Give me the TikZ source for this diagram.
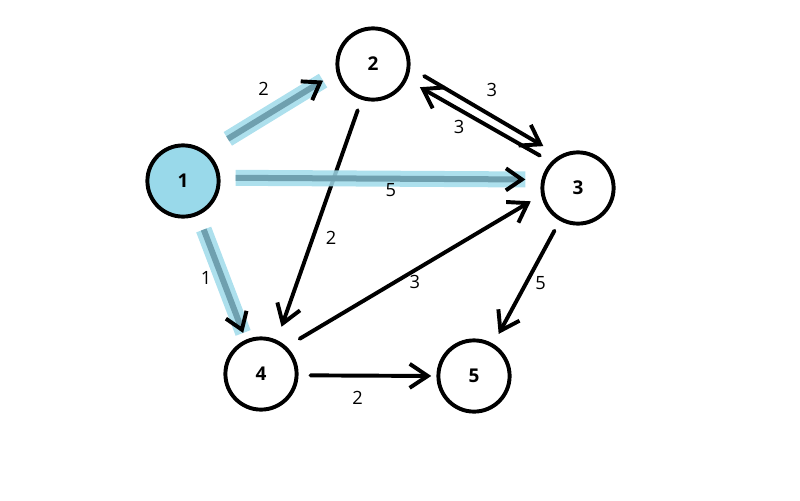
\documentclass[tikz,border=0pt]{standalone}
\usepackage{fontspec}
\setmainfont{Open Sans}
\usepackage{xcolor}
\usetikzlibrary{arrows.meta}
\definecolor{hlfill}{HTML}{99D9EA}
\definecolor{hlband}{HTML}{9FDAEA}
\definecolor{hlline}{HTML}{6FA0AF}

\begin{document}
\begin{tikzpicture}[x=0.025cm,y=-0.025cm,
  >={Straight Barb[length=0.45cm,width=0.6cm]},
  vertex/.style={draw,circle,line width=2.8pt,minimum size=1.78cm,font=\fontsize{13.5}{15}\selectfont\bfseries},
  edge/.style={->,line width=2.8pt,line cap=round},
  hl/.style={preaction={draw=hlband,opacity=0.85,line width=0.4cm,-},
    draw=hlline,line width=0.15cm,
    -{Straight Barb[length=0.4cm,width=0.55cm,color=black,line width=2.8pt]}},
  lbl/.style={font=\fontsize{13}{15}\selectfont}]
  \path[use as bounding box] (0,0) rectangle (800,500);

  \node[vertex,fill=hlfill] (n1) at (183,181) {1};
  \node[vertex] (n2) at (373,64) {2};
  \node[vertex] (n3) at (578,188) {3};
  \node[vertex] (n4) at (261,374) {4};
  \node[vertex] (n5) at (474,376) {5};

  % plain edges
  \draw[edge,shorten <=0.4cm,shorten >=0.46cm] (n2.-6) -- node[lbl,pos=.5,shift={(7,-22)}] {3} (n3.120);
  \draw[edge,shorten <=0.32cm,shorten >=0.37cm] (n3.136) -- node[lbl,pos=.5,shift={(-20,6)}] {3} (n2.-25);
  \draw[edge,shorten <=0.28cm,shorten >=0.35cm] (n2.-108) -- node[lbl,pos=.5,shift={(12,18)}] {2} (n4.65);
  \draw[edge,shorten <=0.38cm,shorten >=0.3cm] (n4.47) -- node[lbl,pos=.5,shift={(1,11)}] {3} (n3.191);
  \draw[edge,shorten <=0.28cm,shorten >=0.28cm] (n3.-119) -- node[lbl,pos=.5,shift={(14,1)}] {5} (n5.59);
  \draw[edge,shorten <=0.3cm,shorten >=0.13cm] (n4.-2) -- node[lbl,pos=.5,shift={(-10,22)}] {2} (n5.180);

  % highlighted edges
  \draw[hl,shorten <=0.62cm,shorten >=0.39cm] (n1.51) -- node[lbl,pos=.5,shift={(-8,-23)}] {2} (n2.193);
  \draw[hl,shorten <=0.38cm,shorten >=0.4cm] (n1.5) -- node[lbl,pos=.5,shift={(10,11)}] {5} (n3.167);
  \draw[hl,shorten <=0.38cm,shorten >=0.18cm] (n1.-66) -- node[lbl,pos=.5,shift={(-16,0)}] {1} (n4.114);
\end{tikzpicture}
\end{document}
